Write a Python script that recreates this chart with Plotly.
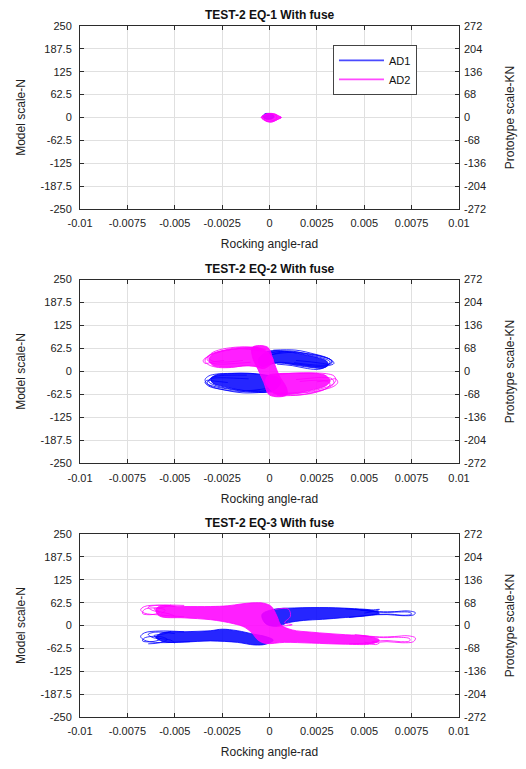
import plotly.graph_objects as go

# ---------------- axes / labels ----------------
x_ticks = [-0.01, -0.0075, -0.005, -0.0025, 0, 0.0025, 0.005, 0.0075, 0.01]
x_tick_labels = ["-0.01", "-0.0075", "-0.005", "-0.0025", "0", "0.0025", "0.005", "0.0075", "0.01"]
model_ticks = [250, 187.5, 125, 62.5, 0, -62.5, -125, -187.5, -250]
model_tick_labels = ["250", "187.5", "125", "62.5", "0", "-62.5", "-125", "-187.5", "-250"]
proto_ticks = [272, 204, 136, 68, 0, -68, -136, -204, -272]
proto_tick_labels = ["272", "204", "136", "68", "0", "-68", "-136", "-204", "-272"]
titles = ["TEST-2 EQ-1 With fuse", "TEST-2 EQ-2 With fuse", "TEST-2 EQ-3 With fuse"]
series_names = ["AD1", "AD2"]

# ---------------- EQ-1 ----------------
eq1_ad1_core_x = [-0.00035, -0.00022, 0.00000, 0.00018, 0.00025, 0.00012, -0.00010, -0.00028, -0.00035]
eq1_ad1_core_y = [3, 9, 10, 7, 1, -4, -5, -2, 3]
eq1_ad1_loop_x = [-0.00036, -0.00024, -0.00005, 0.00012, 0.00020, 0.00005, -0.00015, -0.00030]
eq1_ad1_loop_y = [4, 10, 11, 8, 2, -3, -4, 1]
eq1_ad2_core_x = [-0.00044, -0.00030, -0.00012, 0.00010, 0.00032, 0.00050, 0.00062, 0.00048, 0.00030,
                  0.00008, -0.00015, -0.00032, -0.00044]
eq1_ad2_core_y = [0, 6, 10, 11, 9, 3, 0, -4, -9, -12, -10, -5, 0]
eq1_ad2_loop_x = [-0.00045, -0.00028, -0.00005, 0.00022, 0.00045, 0.00063, 0.00040, 0.00010, -0.00020,
                  -0.00040, None, -0.00030, -0.00010, 0.00020, 0.00040, 0.00020, -0.00010, -0.00030]
eq1_ad2_loop_y = [0, 7, 11, 10, 5, 0, -6, -13, -10, -3, None, 4, 9, 8, 0, -8, -11, -4]

# ---------------- EQ-2 ----------------
eq2_ad1_core_x = [-0.0006, -0.0002, 0.0004, 0.0012, 0.0020, 0.0026, 0.0030, 0.0031, 0.0028, 0.0022, 0.0015,
                  0.0008, 0.0002, -0.0004, -0.0006, None,
                  0.0006, 0.0002, -0.0004, -0.0012, -0.0020, -0.0026, -0.0030, -0.0031, -0.0028, -0.0022,
                  -0.0015, -0.0008, -0.0002, 0.0004, 0.0006]
eq2_ad1_core_y = [30, 52, 57, 52, 44, 37, 29, 18, 9, 11, 16, 22, 22, 14, 30, None,
                  -30, -52, -57, -53, -46, -39, -31, -20, -9, -6, -5, -6, -10, -15, -30]
eq2_ad1_loop_x = [0.0000, 0.0010, 0.0020, 0.0028, 0.0033, 0.0034, 0.0031, 0.0025, 0.0015, 0.0005, 0.0000, None,
                  0.0000, 0.0012, 0.0022, 0.0029, 0.0032, 0.0030, 0.0026, 0.0020, 0.0012, 0.0004, None,
                  -0.0002, 0.0008, 0.0018, 0.0027, 0.0032, 0.0033, 0.0032, 0.0028, 0.0022, 0.0014, None,
                  0.0002, 0.0014, 0.0024, 0.0030, 0.0033, 0.0031, 0.0027, 0.0021, 0.0013, None,
                  0.0000, -0.0010, -0.0020, -0.0028, -0.0033, -0.0034, -0.0032, -0.0028, -0.0020, -0.0010, 0.0000, None,
                  0.0000, -0.0012, -0.0022, -0.0029, -0.0032, -0.0031, -0.0027, -0.0020, -0.0012, None,
                  -0.0005, -0.0016, -0.0026, -0.0032, -0.0034, -0.0033, -0.0029, -0.0022, None,
                  -0.0002, -0.0014, -0.0024, -0.0030, -0.0033, -0.0031, -0.0026, -0.0019, -0.0011]
eq2_ad1_loop_y = [50, 56, 48, 40, 30, 22, 16, 14, 20, 25, 20, None,
                  45, 52, 44, 35, 26, 14, 6, 8, 16, 20, None,
                  40, 54, 50, 42, 33, 25, 20, 22, 26, 30, None,
                  58, 58, 47, 38, 28, 19, 17, 19, 24, None,
                  -50, -56, -49, -42, -33, -22, -12, -7, -5, -5, -12, None,
                  -45, -52, -46, -37, -28, -18, -12, -10, -10, None,
                  -50, -54, -48, -40, -30, -24, -26, -30, None,
                  -56, -58, -50, -42, -32, -20, -17, -18, -20]
eq2_ad2_core_x = [0.0002, -0.0004, -0.0012, -0.0020, -0.0026, -0.0030, -0.0032, -0.0030, -0.0026, -0.0020,
                  -0.0014, -0.0008, -0.0003, 0.0002, None,
                  -0.0002, 0.0004, 0.0012, 0.0020, 0.0026, 0.0030, 0.0032, 0.0030, 0.0025, 0.0018, 0.0010,
                  0.0004, -0.0001, -0.0002, None,
                  -0.0009, -0.0001, 0.0002, 0.0005, 0.0009, 0.0009, 0.0000, -0.0003, -0.0006, -0.0009, -0.0009]
eq2_ad2_core_y = [30, 62, 64, 60, 54, 46, 32, 17, 12, 12, 15, 15, 8, 30, None,
                  -30, -62, -60, -53, -46, -38, -26, -12, -5, -4, -5, -6, -12, -30, None,
                  66, 66, 30, -10, -45, -64, -64, -30, 5, 40, 66]
eq2_ad2_loop_x = [0.0000, -0.0010, -0.0020, -0.0028, -0.0033, -0.0034, -0.0032, -0.0027, -0.0020, -0.0012, -0.0004, None,
                  -0.0002, -0.0014, -0.0024, -0.0031, -0.0033, -0.0031, -0.0026, -0.0018, -0.0010, None,
                  -0.0004, -0.0016, -0.0026, -0.0032, -0.0035, -0.0034, -0.0030, -0.0024, None,
                  -0.0006, -0.0018, -0.0027, -0.0031, -0.0032, -0.0029, -0.0022, -0.0014, None,
                  0.0000, 0.0010, 0.0020, 0.0028, 0.0033, 0.0035, 0.0034, 0.0030, 0.0022, 0.0012, 0.0004, None,
                  0.0002, 0.0014, 0.0024, 0.0031, 0.0034, 0.0033, 0.0029, 0.0022, 0.0014, None,
                  0.0006, 0.0018, 0.0028, 0.0034, 0.0036, 0.0035, 0.0031, 0.0025, None,
                  0.0004, 0.0016, 0.0025, 0.0030, 0.0032, 0.0030, 0.0024, 0.0016]
eq2_ad2_loop_y = [50, 64, 60, 52, 40, 28, 18, 11, 11, 16, 10, None,
                  60, 66, 58, 46, 34, 24, 20, 22, 25, None,
                  55, 62, 54, 42, 30, 22, 26, 30, None,
                  66, 66, 58, 48, 36, 27, 26, 30, None,
                  -55, -62, -55, -46, -36, -24, -12, -6, -4, -5, -8, None,
                  -60, -64, -56, -44, -32, -20, -16, -18, -22, None,
                  -58, -58, -50, -40, -30, -20, -24, -28, None,
                  -66, -64, -56, -46, -34, -26, -24, -27]

# ---------------- EQ-3 ----------------
eq3_ad1_core_x = [-0.0004, 0.0002, 0.0013, 0.0031, 0.0045, 0.0054, 0.0058, 0.0052, 0.0040, 0.0028, 0.0018,
                  0.0010, 0.0004, -0.0002, -0.0004, None,
                  0.0002, -0.0002, -0.0008, -0.0017, -0.0031, -0.0045, -0.0056, -0.0060, -0.0056, -0.0045,
                  -0.0031, -0.0025, -0.0017, -0.0008, -0.0002, 0.0002]
eq3_ad1_core_y = [30, 44, 48, 49, 46, 42, 34, 27, 22, 17, 14, 8, -2, 5, 30, None,
                  -40, -51, -53, -46, -42, -45, -44, -32, -19, -17, -14, -10, -14, -24, -30, -40]
eq3_ad1_loop_x = [0.0045, 0.0058, 0.0066, 0.0073, 0.0077, 0.0076, 0.0070, 0.0062, 0.0052, 0.0042, None,
                  0.0048, 0.0060, 0.0068, 0.0074, 0.0075, 0.0071, 0.0064, 0.0054, None,
                  0.0040, 0.0052, 0.0058, 0.0056, 0.0050, None,
                  -0.0045, -0.0058, -0.0066, -0.0068, -0.0066, -0.0060, -0.0050, -0.0042, None,
                  -0.0050, -0.0060, -0.0064, -0.0062, -0.0058, -0.0062, -0.0067, -0.0066, -0.0058, -0.0054,
                  -0.0058, -0.0064, None,
                  -0.0052, -0.0055, -0.0061, -0.0058, -0.0052, -0.0050]
eq3_ad1_loop_y = [45, 38, 38, 40, 35, 29, 27, 30, 28, 22, None,
                  42, 36, 37, 36, 31, 28, 31, 30, None,
                  46, 42, 44, 40, 34, None,
                  -17, -15, -20, -30, -40, -46, -46, -44, None,
                  -22, -18, -24, -32, -38, -44, -42, -34, -30, -38, -47, -50, None,
                  -16, -22, -28, -35, -40, -48]
eq3_ad2_core_x = [-0.0060, -0.0058, -0.0045, -0.0031, -0.0022, -0.0015, -0.0009, -0.0003, 0.0001, 0.0004,
                  0.0006, 0.0012, 0.0022, 0.0040, 0.0052, 0.0058, 0.0054, 0.0040, 0.0022, 0.0008, -0.0002,
                  -0.0006, -0.0009, -0.0013, -0.0019, -0.0031, -0.0045, -0.0058, -0.0060]
eq3_ad2_core_y = [42, 53, 52, 52, 54, 59, 62, 61, 52, 25, 2, -12, -18, -25, -29, -40, -50, -51, -48, -46,
                  -49, -40, -22, -5, 5, 16, 21, 26, 42]
eq3_ad2_loop_x = [-0.0045, -0.0058, -0.0066, -0.0068, -0.0066, -0.0058, -0.0045, None,
                  -0.0050, -0.0060, -0.0064, -0.0062, -0.0058, -0.0062, -0.0067, -0.0066, -0.0060, -0.0055,
                  -0.0057, None,
                  -0.0052, -0.0056, -0.0061, -0.0058, -0.0053, -0.0050, None,
                  0.0045, 0.0058, 0.0066, 0.0073, 0.0077, 0.0076, 0.0070, 0.0062, 0.0052, 0.0042, None,
                  0.0048, 0.0060, 0.0068, 0.0074, 0.0074, 0.0069, 0.0062, 0.0054, None,
                  0.0050, 0.0056, 0.0058, None,
                  0.0003, 0.0010, 0.0011, 0.0008, 0.0012, 0.0004]
eq3_ad2_loop_y = [55, 56, 52, 43, 34, 29, 24, None,
                  52, 55, 50, 42, 36, 30, 33, 44, 48, 42, 33, None,
                  56, 50, 46, 38, 32, 26, None,
                  -25, -31, -30, -28, -34, -44, -47, -44, -48, -50, None,
                  -28, -33, -32, -36, -42, -44, -41, -44, None,
                  -45, -52, -48, None,
                  44, 45, 25, 8, 2, -2]

panels = [
    [(eq1_ad1_core_x, eq1_ad1_core_y, eq1_ad1_loop_x, eq1_ad1_loop_y),
     (eq1_ad2_core_x, eq1_ad2_core_y, eq1_ad2_loop_x, eq1_ad2_loop_y)],
    [(eq2_ad1_core_x, eq2_ad1_core_y, eq2_ad1_loop_x, eq2_ad1_loop_y),
     (eq2_ad2_core_x, eq2_ad2_core_y, eq2_ad2_loop_x, eq2_ad2_loop_y)],
    [(eq3_ad1_core_x, eq3_ad1_core_y, eq3_ad1_loop_x, eq3_ad1_loop_y),
     (eq3_ad2_core_x, eq3_ad2_core_y, eq3_ad2_loop_x, eq3_ad2_loop_y)],
]


def split_runs(xs, ys):
    """Split None-separated lists into separate closed outlines."""
    runs, cx, cy = [], [], []
    for a, b in zip(xs, ys):
        if a is None:
            if cx:
                runs.append((cx, cy))
            cx, cy = [], []
        else:
            cx.append(a)
            cy.append(b)
    if cx:
        runs.append((cx, cy))
    return runs


FONT = "Liberation Sans, Arial, Helvetica, sans-serif"
line_colors = ["#0000ff", "#ff00ff"]
legend_colors = ["#4a4aff", "#ff4aff"]
fill_colors = ["rgba(0,0,255,0.85)", "rgba(255,0,255,0.88)"]
domains = [(0.7353, 1.0), (0.3669, 0.6331), (0.0, 0.2647)]
AXIS_COL = "#2b2b2b"
GRID_COL = "#e0e0e0"
TXT = "#222222"

fig = go.Figure()
layout_axes = {}
annotations = []
for i, series in enumerate(panels):
    k = "" if i == 0 else str(i + 1)
    xref = "x" + k
    yref = "y" + k
    yref_r = "y" + str(i + 4)
    for s, (cx, cy, lx, ly) in enumerate(series):
        for px, py in split_runs(cx, cy):
            fig.add_trace(go.Scatter(x=px, y=py, mode="lines", fill="toself", fillcolor=fill_colors[s],
                                     line=dict(color=line_colors[s], width=0.8, shape="spline", smoothing=1.0),
                                     showlegend=False, hoverinfo="skip", xaxis=xref, yaxis=yref))
        fig.add_trace(go.Scatter(x=lx, y=ly, mode="lines", name=series_names[s],
                                 line=dict(color=line_colors[s], width=0.8, shape="spline", smoothing=1.0),
                                 showlegend=False, xaxis=xref, yaxis=yref))
    # invisible trace so the right-hand axis is drawn
    fig.add_trace(go.Scatter(x=[x_ticks[0]], y=[proto_ticks[0]], mode="markers", marker=dict(opacity=0),
                             showlegend=False, hoverinfo="skip", xaxis=xref, yaxis=yref_r))

    layout_axes["xaxis" + k] = dict(
        domain=[0, 1], anchor=yref, range=[-0.01, 0.01], tickvals=x_ticks, ticktext=x_tick_labels,
        ticks="inside", ticklen=4, tickcolor=AXIS_COL, showline=True, linecolor=AXIS_COL, linewidth=1,
        mirror="ticks", showgrid=True, gridcolor=GRID_COL, zeroline=False, ticklabelstandoff=4,
        tickfont=dict(size=11, color=TXT),
        title=dict(text="Rocking angle-rad", font=dict(size=12, color=TXT), standoff=11))
    layout_axes["yaxis" + k] = dict(
        domain=list(domains[i]), anchor=xref, range=[-250, 250], tickvals=model_ticks,
        ticktext=model_tick_labels, ticks="inside", ticklen=4, tickcolor=AXIS_COL, showline=True,
        linecolor=AXIS_COL, linewidth=1, mirror=True, showgrid=True, gridcolor=GRID_COL, zeroline=False,
        ticklabelstandoff=5, tickfont=dict(size=11, color=TXT),
        title=dict(text="Model scale-N", font=dict(size=12, color=TXT), standoff=12))
    layout_axes["yaxis" + str(i + 4)] = dict(
        overlaying=yref, side="right", anchor=xref, range=[-272, 272], tickvals=proto_ticks,
        ticktext=proto_tick_labels, ticks="inside", ticklen=4, tickcolor=AXIS_COL, showline=False,
        showgrid=False, zeroline=False, ticklabelstandoff=4, tickfont=dict(size=11, color=TXT),
        title=dict(text="Prototype scale-KN", font=dict(size=12, color=TXT), standoff=20))
    annotations.append(dict(text="<b>" + titles[i] + "</b>", xref="paper", yref="paper", x=0.5,
                            y=domains[i][1], xanchor="center", yanchor="bottom", yshift=2, showarrow=False,
                            font=dict(size=12, color="#111")))

# legend entries
for s in range(2):
    fig.add_trace(go.Scatter(x=[None], y=[None], mode="lines", name=series_names[s],
                             line=dict(color=legend_colors[s], width=1.6), showlegend=True,
                             xaxis="x", yaxis="y"))

# the page body adds an 8px margin, so the figure is 8px smaller on each side that matters
fig.update_layout(
    width=518, height=761,
    margin=dict(l=72, r=67, t=15, b=51),
    paper_bgcolor="white", plot_bgcolor="white",
    font=dict(family=FONT, size=11, color=TXT),
    annotations=annotations,
    legend=dict(x=0.6675, y=0.9727, xanchor="left", yanchor="top", bgcolor="white",
                bordercolor="#444", borderwidth=1, font=dict(size=11, color="#111"),
                itemwidth=45, tracegroupgap=0),
    **layout_axes,
)

fig.write_html("out.html")
